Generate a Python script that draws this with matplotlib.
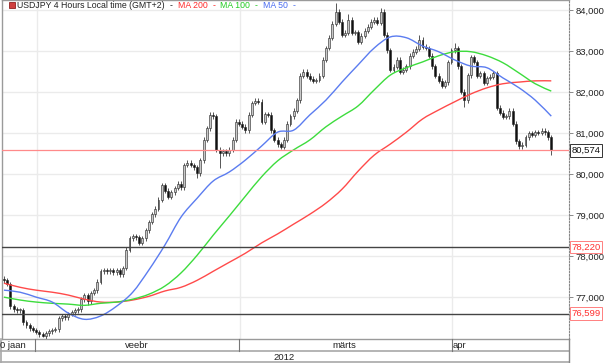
import numpy as np
import matplotlib
matplotlib.use("Agg")
import matplotlib.pyplot as plt
from matplotlib.lines import Line2D
from matplotlib.patches import Rectangle, PathPatch
from matplotlib.path import Path

plt.rcParams['font.family'] = ['Liberation Sans', 'DejaVu Sans']

# 8-hour bars (close values)
first_open = 77.45
closes = [
    77.41, 77.32, 76.78, 76.71, 76.68, 76.68, 76.39, 76.32, 76.24, 76.20,
    76.15, 76.10, 76.05, 76.12, 76.17, 76.20, 76.22, 76.49, 76.54, 76.51,
    76.59, 76.63, 76.68, 76.71, 76.95, 77.05, 76.90, 77.10, 77.17, 77.37,
    77.63, 77.66, 77.63, 77.66, 77.61, 77.66, 77.56, 77.71, 78.15, 78.44,
    78.49, 78.46, 78.32, 78.44, 78.63, 78.83, 79.02, 79.15, 79.37, 79.73,
    79.59, 79.44, 79.56, 79.66, 79.76, 79.68, 80.22, 80.27, 80.22, 80.17,
    80.02, 80.34, 80.83, 81.12, 81.44, 81.41, 80.59, 80.51, 80.56, 80.51,
    80.59, 80.83, 81.27, 81.22, 81.15, 81.07, 81.44, 81.73, 81.78, 81.76,
    81.27, 81.46, 81.44, 81.07, 80.83, 80.73, 80.66, 80.83, 81.22, 81.41,
    81.54, 81.80, 82.39, 82.49, 82.39, 82.32, 82.27, 82.29, 82.39, 82.78,
    83.07, 83.32, 83.66, 83.95, 83.71, 83.39, 83.44, 83.76, 83.44, 83.46,
    83.22, 83.37, 83.49, 83.59, 83.71, 83.76, 83.68, 83.95, 83.39, 83.02,
    82.54, 82.61, 82.78, 82.49, 82.54, 82.63, 82.88, 82.98, 83.05, 83.27,
    83.10, 83.07, 82.88, 82.63, 82.39, 82.27, 82.15, 82.24, 82.73, 83.02,
    83.07, 82.63, 82.00, 81.80, 82.41, 82.85, 82.73, 82.39, 82.46, 82.22,
    82.34, 82.37, 82.46, 81.61, 81.49, 81.39, 81.41, 81.54, 81.22, 80.80,
    80.68, 80.71, 80.90, 81.00, 80.95, 81.02, 81.00, 81.05, 81.02, 80.90,
    80.574,
]
# extremes that stick out of the bodies (bar index -> price)
high_spikes = {103: 84.17, 107: 83.90, 117: 84.05, 129: 83.38, 140: 83.20, 64: 81.50, 78: 81.85}
low_spikes = {12: 76.02, 60: 79.90, 67: 80.15, 143: 81.63, 170: 80.46, 26: 76.80}

# moving averages, one value every 5 bars
ma_step = 5
ma200 = [77.34, 77.24, 77.17, 77.12, 77.05, 76.95, 76.88, 76.88, 76.93, 77.02,
         77.15, 77.24, 77.41, 77.63, 77.85, 78.07, 78.32, 78.54, 78.78, 79.02,
         79.29, 79.63, 80.07, 80.46, 80.73, 81.02, 81.34, 81.56, 81.76, 81.95,
         82.10, 82.20, 82.24, 82.27, 82.27]
ma100 = [77.00, 76.93, 76.88, 76.85, 76.83, 76.80, 76.85, 76.88, 76.95, 77.07,
         77.27, 77.59, 78.02, 78.51, 78.98, 79.46, 79.93, 80.32, 80.59, 80.83,
         81.15, 81.41, 81.66, 82.05, 82.41, 82.59, 82.73, 82.88, 82.98, 82.98,
         82.88, 82.71, 82.46, 82.20, 82.02]
ma50 = [77.17, 77.12, 77.00, 76.88, 76.61, 76.46, 76.54, 76.78, 77.12, 77.66,
        78.27, 78.95, 79.41, 79.83, 80.05, 80.34, 80.68, 81.02, 81.07, 81.44,
        81.80, 82.24, 82.66, 83.07, 83.34, 83.32, 83.12, 82.98, 82.78, 82.63,
        82.59, 82.34, 82.10, 81.80, 81.41]

support_levels = [78.220, 76.599]
last_price = 80.574
y_ticks = [77, 78, 79, 80, 81, 82, 83, 84]
month_starts = [10.2, 73.4, 139.3]   # bar index where Feb, Mar, Apr begin
year_label = "2012"

W, H = 605, 363


def fx(px):
    return px / W


def fy(py):
    return 1 - py / H


def fmt(v, dec=3):
    return f"{v:,.{dec}f}".replace(".", "#").replace(",", " ").replace("#", ",")


def smooth_path(xs, ys):
    # Catmull-Rom through the read points, drawn as cubic bezier segments
    pts = np.column_stack([xs, ys]).astype(float)
    verts = [pts[0]]
    codes = [Path.MOVETO]
    for i in range(len(pts) - 1):
        p0 = pts[max(i - 1, 0)]
        p1 = pts[i]
        p2 = pts[i + 1]
        p3 = pts[min(i + 2, len(pts) - 1)]
        verts += [p1 + (p2 - p0) / 6, p2 - (p3 - p1) / 6, p2]
        codes += [Path.CURVE4] * 3
    return Path(verts, codes)


fig = plt.figure(figsize=(W / 100, H / 100), dpi=100)
fig.patch.set_facecolor("white")
ax = fig.add_axes([fx(2), fy(339), fx(569) - fx(2), fy(0) - fy(339)])

# grid
for t in y_ticks:
    ax.axhline(t, color="#ebebeb", lw=1, zorder=0)
for m in month_starts:
    ax.axvline(m, color="#ebebeb", lw=1, zorder=0)

# candles
c = np.array(closes)
o = np.r_[first_open, c[:-1]]
x = np.arange(len(c))
hi = np.maximum(o, c) + 0.06
lo = np.minimum(o, c) - 0.06
for k, v in high_spikes.items():
    hi[k] = v
for k, v in low_spikes.items():
    lo[k] = v
ax.vlines(x, lo, hi, color="#555555", lw=0.7, zorder=2)
up = c >= o
body_col = np.where(up, "#c8c8c8", "#111111")
ax.bar(x, np.maximum(np.abs(c - o), 0.02), bottom=np.minimum(o, c), width=0.6,
       color=body_col, edgecolor="#222222", linewidth=0.4, zorder=3)

# moving averages
mx = np.arange(len(ma50)) * ma_step
for vals, col in [(ma200, "#ff4a4a"), (ma100, "#3ddc3d"), (ma50, "#5b7cf0")]:
    ax.add_patch(PathPatch(smooth_path(mx, vals), fill=False, ec=col, lw=1.0, zorder=4))

# levels
for lvl in support_levels:
    ax.axhline(lvl, color="#444444", lw=1.0, zorder=5)
ax.axhline(last_price, color="#ff8a8a", lw=0.9, zorder=5)

ax.set_xlim(-0.6, 175.5)
ax.set_ylim(75.98, 84.24)
ax.set_xticks([])
ax.yaxis.tick_right()
ax.set_yticks(y_ticks)
ax.set_yticklabels([fmt(t) for t in y_ticks])
ax.tick_params(axis="y", length=3, width=0.6, color="#777777", labelsize=6.8,
               pad=2, labelcolor="#222222")
for side in ["left", "top", "bottom"]:
    ax.spines[side].set_color("#9a9a9a")
    ax.spines[side].set_linewidth(1.0)
ax.spines["right"].set_color("#888888")
ax.spines["right"].set_linestyle((0, (1.5, 1.5)))
ax.spines["right"].set_linewidth(0.8)

# price boxes on the right
yt = ax.get_yaxis_transform()
ax.text(1.004, last_price, fmt(last_price), transform=yt, ha="left", va="center",
        fontsize=6.8, color="#111111",
        bbox=dict(boxstyle="square,pad=0.18", fc="white", ec="#333333", lw=0.7))
for lvl in support_levels:
    ax.text(1.004, lvl, fmt(lvl), transform=yt, ha="left", va="center",
            fontsize=6.8, color="#ff3030",
            bbox=dict(boxstyle="square,pad=0.18", fc="white", ec="#ff8080", lw=0.7))

# title line, pieces chained one after another
fig.patches.append(Rectangle((fx(9), fy(8)), fx(6), fy(2) - fy(8), transform=fig.transFigure,
                             fc="#d04040", ec="#902020", lw=0.6))
parts = [("USDJPY 4 Hours Local time (GMT+2)", "#222222"), ("-", "#222222"),
         ("MA 200", "#ff2a2a"), ("-", "#ff2a2a"),
         ("MA 100", "#22cc22"), ("-", "#22cc22"),
         ("MA 50", "#4a6cf0"), ("-", "#4a6cf0")]
renderer = fig.canvas.get_renderer()
xpos = 17
for txt, col in parts:
    t = fig.text(fx(xpos), fy(5.5), txt, ha="left", va="center", fontsize=6.3, color=col)
    bb = t.get_window_extent(renderer)
    xpos = bb.x1 + 5

# x-axis bands
band_col = "#a8a8a8"
for y0 in [351, 362]:
    fig.add_artist(Line2D([fx(0), fx(569)], [fy(y0), fy(y0)], color=band_col, lw=1.2,
                          transform=fig.transFigure))
fig.add_artist(Line2D([fx(1), fx(1)], [fy(339), fy(363)], color=band_col, lw=1.2,
                      transform=fig.transFigure))
fig.add_artist(Line2D([fx(569), fx(569)], [fy(339), fy(363)], color="#888888", lw=1.0,
                      transform=fig.transFigure))
for px in [35, 239, 452]:
    fig.add_artist(Line2D([fx(px), fx(px)], [fy(339), fy(351)], color="#777777", lw=0.8,
                          transform=fig.transFigure))
fig.text(fx(0), fy(346), "0 jaan", ha="left", va="center", fontsize=6.8, color="#222222")
fig.text(fx(137), fy(346), "veebr", ha="center", va="center", fontsize=6.8, color="#222222")
fig.text(fx(344), fy(346), "märts", ha="center", va="center", fontsize=6.8, color="#222222")
fig.text(fx(453), fy(346), "apr", ha="left", va="center", fontsize=6.8, color="#222222")
fig.text(fx(284), fy(357), year_label, ha="center", va="center", fontsize=6.8, color="#222222")

fig.savefig("out.png", dpi=100)
